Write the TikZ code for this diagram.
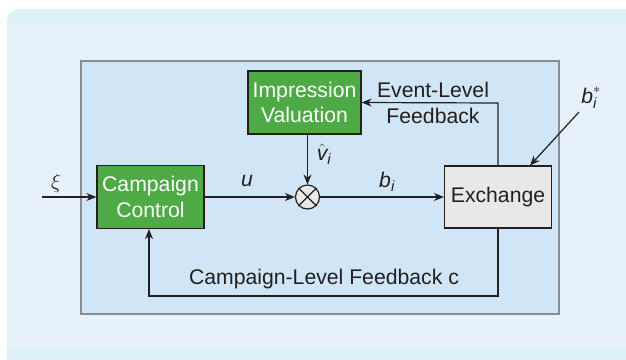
\documentclass[tikz,border=0pt]{standalone}
\usepackage{fontspec}
\usepackage{amsmath}
\setmainfont{Liberation Sans}
\usetikzlibrary{arrows.meta}
\definecolor{panel}{HTML}{E6F1FA}
\definecolor{panelband}{HTML}{DFF2FA}
\definecolor{inner}{HTML}{D0E6F6}
\definecolor{innerborder}{HTML}{8A8C8E}
\definecolor{boxgreen}{HTML}{4DAA44}
\definecolor{exgray}{HTML}{E8E8E8}
\definecolor{ink}{HTML}{231F20}
\tikzset{
  greenbox/.style={draw=ink, line width=1.2pt, fill=boxgreen, text=white, align=center, inner sep=0pt},
  graybox/.style={draw=ink, line width=1.2pt, fill=exgray, text=ink, align=center, inner sep=0pt},
  conn/.style={draw=ink, line width=1.2pt, -{Stealth[length=10pt,width=8pt]}},
  line/.style={draw=ink, line width=1.2pt},
  lbl/.style={text=ink, inner sep=0pt},
}
\begin{document}
\begin{tikzpicture}[x=1pt,y=-1pt, font=\fontsize{21.2}{25.5}\selectfont]
\useasboundingbox (0,0) rectangle (626,359);
% outer panel
\fill[panel, rounded corners=12pt] (7,9) rectangle (660,400);
\fill[panelband, rounded corners=12pt] (7,9) rectangle (660,40);
\fill[panel] (7,25) rectangle (660,45);
\fill[panelband] (7,347) rectangle (660,359);
% inner panel
\draw[innerborder, fill=inner, line width=1.5pt] (81,61) rectangle (559,314);
% boxes
\node[greenbox, minimum width=107pt, minimum height=63pt] (cc) at (150.5,197) {Campaign\\Control};
\node[greenbox, minimum width=113pt, minimum height=63pt] (iv) at (304.5,102.5) {Impression\\Valuation};
\node[graybox, minimum width=107pt, minimum height=62pt] (ex) at (498,197) {Exchange};
\node[circle, draw=ink, line width=1.2pt, fill=exgray, minimum size=24pt, inner sep=0pt] (mul) at (307.5,197) {};
\draw[line] (mul.north east) -- (mul.south west);
\draw[line] (mul.north west) -- (mul.south east);
% input
\coordinate (xiin) at (42,197);
\draw[conn] (xiin) -- (cc.west);
\node[lbl] (xi) at (56,183) {$\xi$};
% u
\draw[conn] (cc.east) -- (mul.west);
\node[lbl] (ul) at (247,181) {\itshape u};
% b_i
\draw[conn] (mul.east) -- (ex.west);
\node[lbl] (bl) at (387,182) {\itshape b\textsubscript{\itshape i}};
% v hat
\draw[conn] (iv.south -| mul.north) -- (mul.north);
\node[lbl] (vl) at (324,154) {$\hat{\text{\itshape v}}_{\text{\itshape i}}$};
% event-level feedback
\coordinate (evc) at (498,103);
\draw[conn] (ex.north -| evc) -- (evc) -- (iv.east);
\node[lbl, align=center] (evl) at (433,103) {Event-Level\\Feedback};
% b_i^*
\coordinate (bst) at (579,112);
\draw[conn] (bst) -- (530,165.5);
\node[lbl] (bsl) at (591,98) {$\text{\itshape b}_{\text{\itshape i}}^{*}$};
% campaign-level feedback
\coordinate (cl1) at (498,296);
\coordinate (cl2) at (149,296);
\draw[conn] (ex.south -| cl1) -- (cl1) -- (cl2) -- (cc.south -| cl2);
\node[lbl] (cll) at (324,279) {Campaign-Level Feedback c};
\end{tikzpicture}
\end{document}
